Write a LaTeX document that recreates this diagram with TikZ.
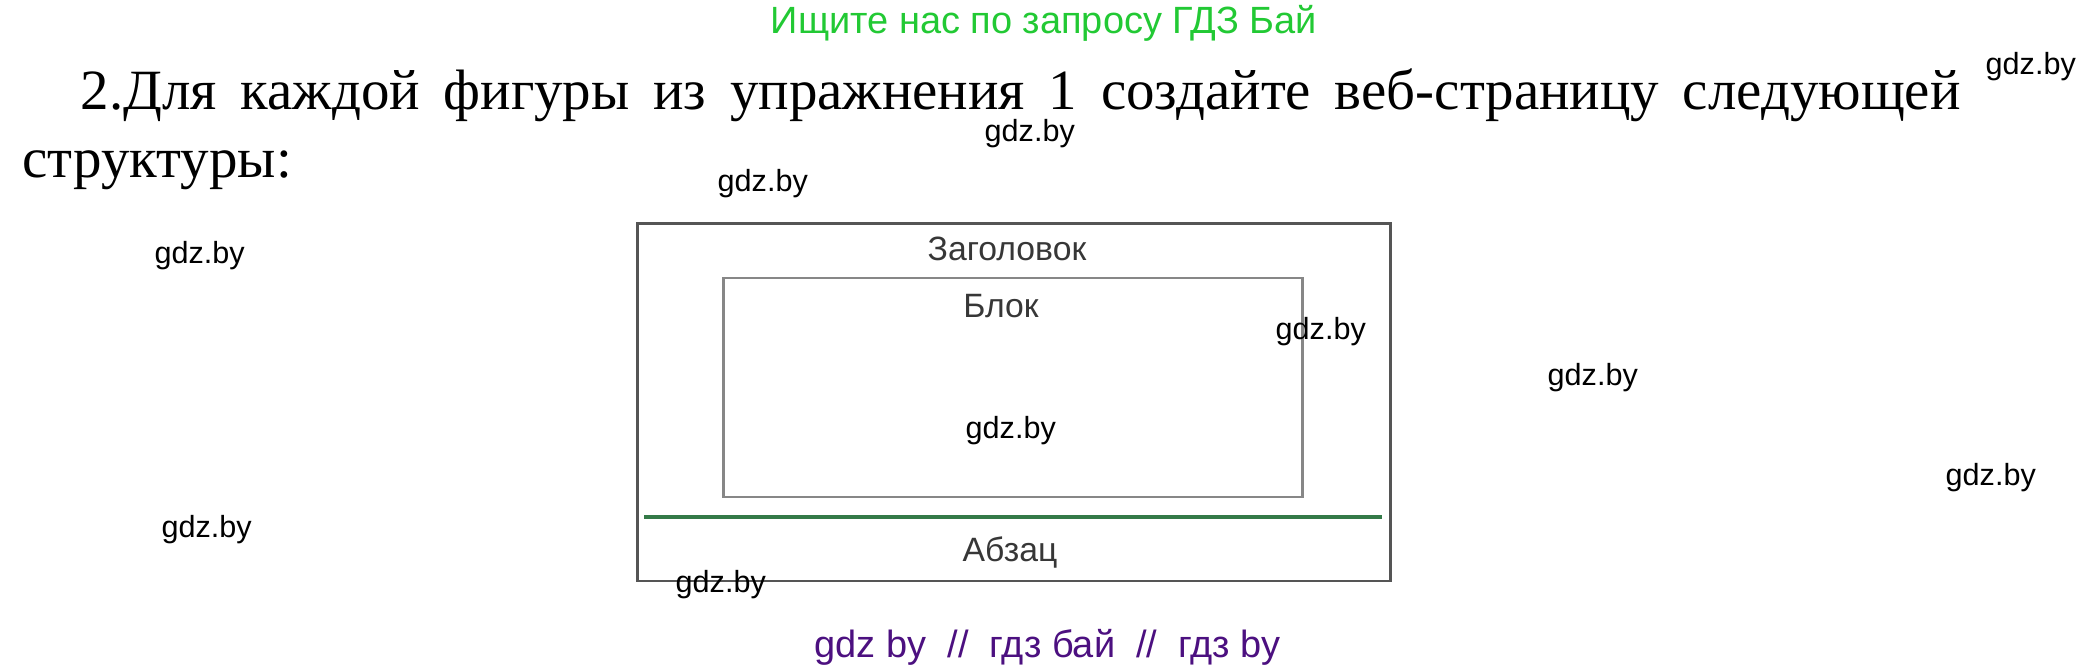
\documentclass[tikz,border=0pt]{standalone}
\usepackage{fontspec}
\setmainfont{Liberation Serif}
\newfontfamily\wmfont{Liberation Sans}
\usepackage{xcolor}
\definecolor{headgreen}{RGB}{34,201,52}
\definecolor{footpurple}{RGB}{76,16,128}
\definecolor{linegreen}{RGB}{52,122,72}
\definecolor{framegray}{RGB}{85,85,85}
\definecolor{blockgray}{RGB}{135,135,135}
\definecolor{labelgray}{RGB}{55,55,55}

\tikzset{
  wm/.style={anchor=base west, inner sep=0pt, font=\wmfont\fontsize{8.7pt}{10pt}\selectfont},
  boxlabel/.style={anchor=base, inner sep=0pt, text=labelgray, font=\wmfont\fontsize{9.6pt}{11pt}\selectfont},
  tasktext/.style={anchor=base west, inner sep=0pt, font=\fontsize{16.2pt}{19pt}\selectfont}
}

\begin{document}
\begin{tikzpicture}[x=0.1mm,y=-0.1mm]
        \useasboundingbox (0,0) rectangle (2100,670);

        % header and task text
        \node[anchor=base west, inner sep=0pt, text=headgreen, font=\wmfont\fontsize{10.8pt}{12pt}\selectfont] (search) at (770,34) {Ищите нас по запросу ГДЗ Бай};
        \node[tasktext] (task) at (80,110) {\makebox[188mm][s]{2.Для каждой фигуры из упражнения 1 создайте веб-страницу следующей}};
        \node[tasktext] (task2) at (22,178) {структуры:};

        % page structure
        \draw[framegray, line width=0.85pt] (637,224) coordinate (page tl) rectangle (1390,581) coordinate (page br);
        \draw[blockgray, line width=0.85pt] (723,278) coordinate (block tl) rectangle (1302,497) coordinate (block br);
        \draw[linegreen, line width=1.1pt] (644,517) coordinate (sep l) -- (1382,517) coordinate (sep r);

        \node[boxlabel] (title) at (1007,261) {Заголовок};
        \node[boxlabel] (block) at (1001,318) {Блок};
        \node[boxlabel] (para) at (1010,562) {Абзац};

        % watermarks
        \foreach \x/\y [count=\i] in {1985/75, 984/142, 717/192, 154/264, 1275/340, 1547/386, 965/439, 1945/486, 161/538, 675/593}
            \node[wm] (wm\i) at (\x,\y) {gdz.by};

        \node[anchor=base west, inner sep=0pt, text=footpurple, font=\wmfont\fontsize{10.8pt}{12pt}\selectfont] (footer) at (814,657) {gdz by\ \ //\ \ гдз бай\ \ //\ \ гдз by};
    \end{tikzpicture}
\end{document}
